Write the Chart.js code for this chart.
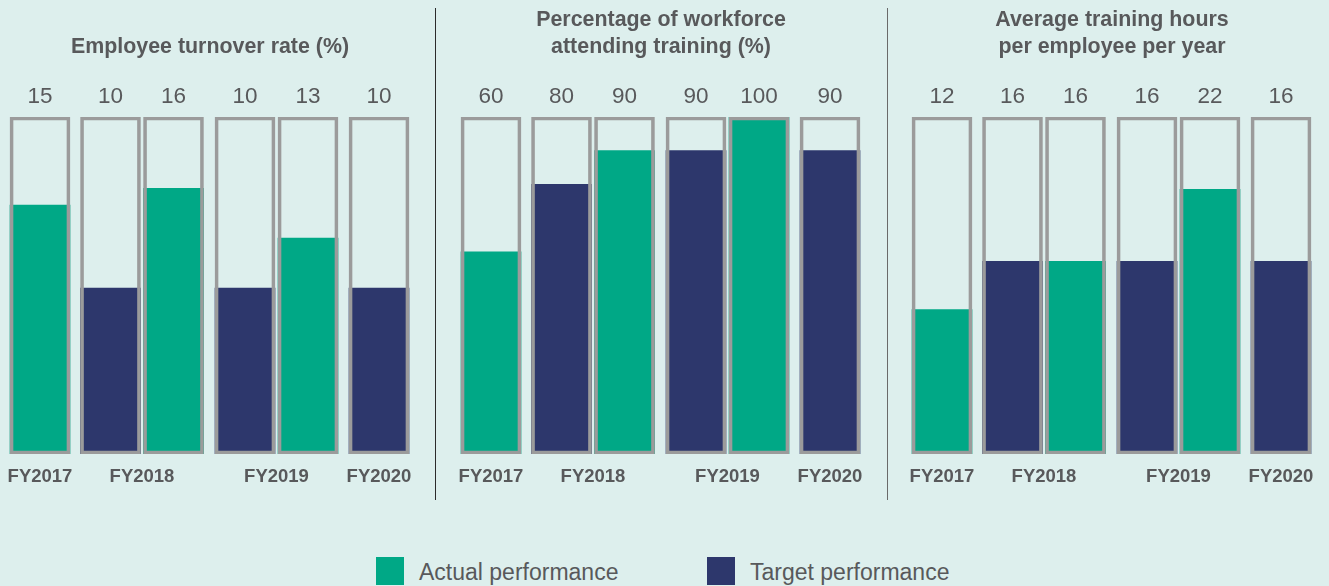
<!DOCTYPE html>
<html>
<head>
<meta charset="utf-8">
<script src="https://cdn.jsdelivr.net/npm/chart.js@4/dist/chart.umd.min.js"></script>
<style>
  html, body { margin: 0; padding: 0; background: #ddefed; }
  #page { position: relative; width: 1329px; height: 586px; overflow: hidden; background: #ddefed;
          font-family: "Liberation Sans", Arial, sans-serif; }
  .panel { position: absolute; top: 0; width: 420px; height: 500px; }
  .sep { position: absolute; top: 8px; width: 1px; height: 492px; background: #2b2b2b; }
  .key { position: absolute; top: 557px; height: 28px; display: flex; align-items: center; }
  .swatch { width: 28px; height: 28px; margin-right: 15px; flex: none; }
  .key span { font-size: 23px; color: #58595b; line-height: 28px; white-space: nowrap;
              position: relative; top: 1px; }
</style>
</head>
<body>
<div id="page">
  <canvas class="panel" id="p0" width="420" height="500" style="left:0px"></canvas>
  <canvas class="panel" id="p1" width="420" height="500" style="left:451px"></canvas>
  <canvas class="panel" id="p2" width="420" height="500" style="left:902px"></canvas>
  <div class="sep" style="left:435px"></div>
  <div class="sep" style="left:887px; background:#6a6a6a"></div>
  <div class="key" style="left:376px"><div class="swatch" id="swA"></div><span id="lgA"></span></div>
  <div class="key" style="left:707px"><div class="swatch" id="swT"></div><span id="lgT"></span></div>
</div>
<script>
// ---- data ----
const fiscalYears = ['FY2017', 'FY2018', 'FY2018', 'FY2019', 'FY2019', 'FY2020'];
const barKind = ['actual', 'target', 'actual', 'target', 'actual', 'target'];
const turnoverRate = [15, 10, 16, 10, 13, 10];
const trainingAttendance = [60, 80, 90, 90, 100, 90];
const trainingHours = [12, 16, 16, 16, 22, 16];
const panelTitles = [
  ['Employee turnover rate (%)'],
  ['Percentage of workforce', 'attending training (%)'],
  ['Average training hours', 'per employee per year']
];
const panelScaleMax = [20.3, 100, 28];
const legendLabels = { actual: 'Actual performance', target: 'Target performance' };

// ---- layout & style ----
const BAR_SLOTS = [40, 110.5, 173.5, 245, 308, 379];   // x-scale positions of the six bars
const COLORS = { actual: '#00a886', target: '#2d376c' };
const FRAME = '#9b9b9b';
const TEXT = '#58595b';
const FONT = '"Liberation Sans", Arial, sans-serif';

document.getElementById('swA').style.background = COLORS.actual;
document.getElementById('swT').style.background = COLORS.target;
document.getElementById('lgA').textContent = legendLabels.actual;
document.getElementById('lgT').textContent = legendLabels.target;

// Draws the panel heading, the value over each bar and the fiscal-year labels
const panelText = {
  id: 'panelText',
  afterDatasetsDraw(chart, args, opts) {
    const ctx = chart.ctx;
    const area = chart.chartArea;
    const meta = chart.getDatasetMeta(1);
    const values = chart.data.datasets[1].data;
    ctx.save();
    ctx.fillStyle = TEXT;
    ctx.textAlign = 'center';
    ctx.textBaseline = 'alphabetic';

    ctx.font = 'bold 21.4px ' + FONT;
    const cx = (area.left + area.right) / 2;
    const lines = opts.title;
    const lastBase = 52.5;
    lines.forEach((ln, i) => {
      ctx.fillText(ln, cx, lastBase - (lines.length - 1 - i) * 27);
    });

    ctx.font = '22.5px ' + FONT;
    meta.data.forEach((bar, i) => {
      ctx.fillText(String(values[i].y), bar.x, area.top - 14);
    });

    ctx.font = 'bold 18.5px ' + FONT;
    const groups = [];
    fiscalYears.forEach((fy, i) => {
      const g = groups.find(x => x.fy === fy);
      if (g) g.xs.push(meta.data[i].x); else groups.push({ fy, xs: [meta.data[i].x] });
    });
    groups.forEach(g => {
      const x = g.xs.reduce((a, b) => a + b, 0) / g.xs.length;
      ctx.fillText(g.fy, x, area.bottom + 28);
    });
    ctx.restore();
  }
};

function makePanel(id, values, title, max) {
  new Chart(document.getElementById(id), {
    type: 'bar',
    data: {
      datasets: [
        {
          // outlined track for each bar
          data: BAR_SLOTS.map(x => ({ x, y: max })),
          backgroundColor: 'rgba(0,0,0,0)',
          borderColor: FRAME,
          borderWidth: 3,
          borderSkipped: false,
          order: 0
        },
        {
          data: BAR_SLOTS.map((x, i) => ({ x, y: values[i] })),
          backgroundColor: barKind.map(k => COLORS[k]),
          borderWidth: 0,
          order: 1
        }
      ]
    },
    options: {
      responsive: false,
      animation: false,
      devicePixelRatio: 1,
      events: [],
      layout: { padding: { top: 117, bottom: 46, left: 0, right: 0 } },
      datasets: {
        bar: { grouped: false, barPercentage: 1, categoryPercentage: 1, maxBarThickness: 60 }
      },
      scales: {
        x: { type: 'linear', min: 0, max: 420, offset: false, display: false,
             ticks: { stepSize: 420 } },
        y: { type: 'linear', min: 0, max: max, display: false, ticks: { stepSize: max } }
      },
      plugins: {
        legend: { display: false },
        tooltip: { enabled: false },
        panelText: { title }
      }
    },
    plugins: [panelText]
  });
}

makePanel('p0', turnoverRate, panelTitles[0], panelScaleMax[0]);
makePanel('p1', trainingAttendance, panelTitles[1], panelScaleMax[1]);
makePanel('p2', trainingHours, panelTitles[2], panelScaleMax[2]);
</script>
</body>
</html>
